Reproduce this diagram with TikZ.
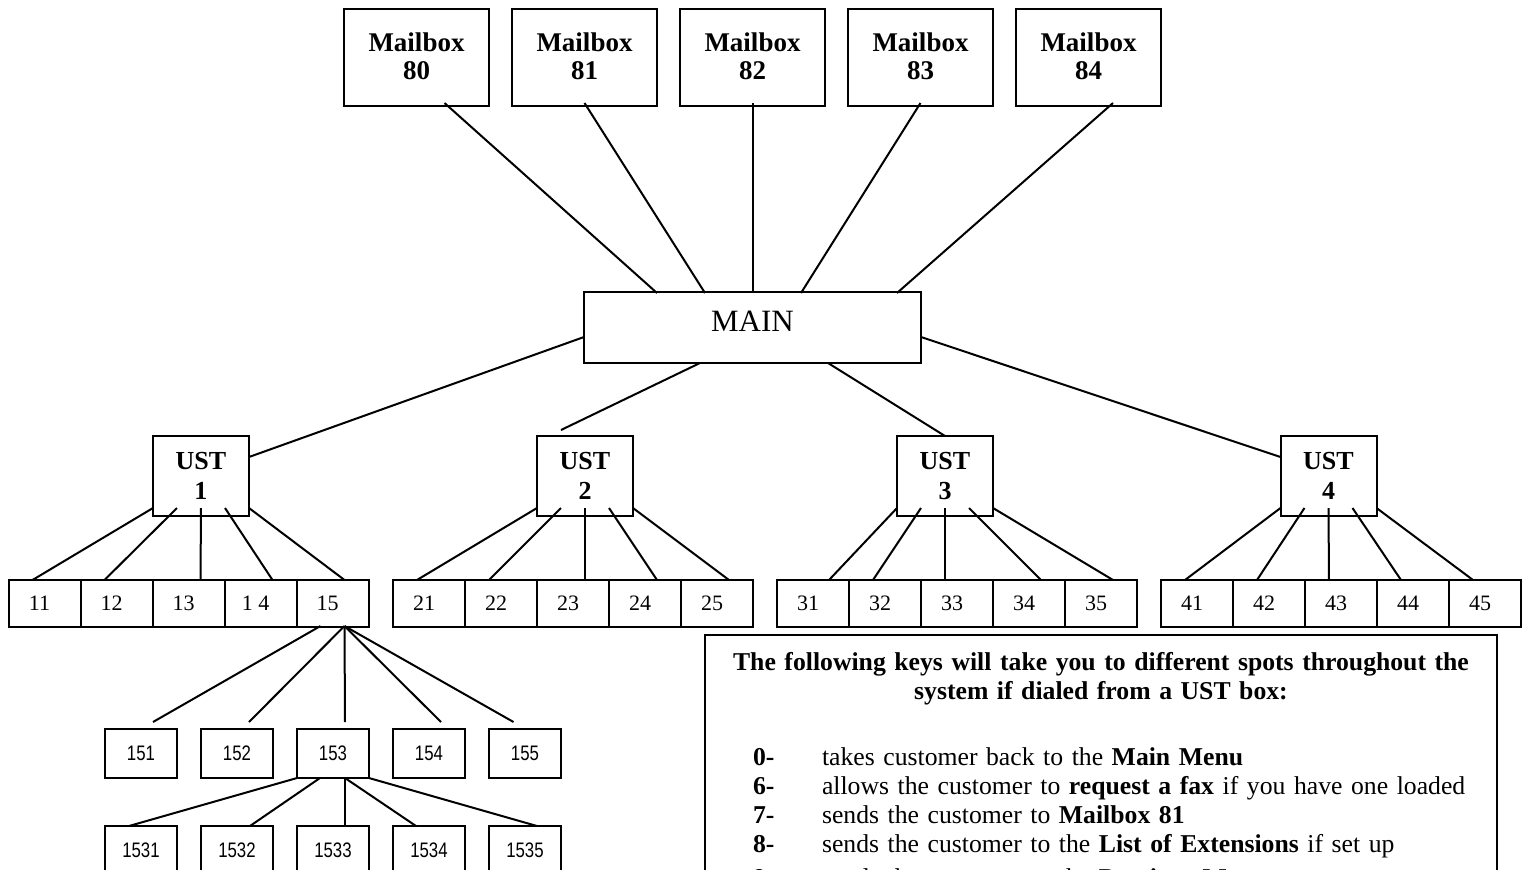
\documentclass[tikz,border=0pt]{standalone}
\usepackage{fontspec}
\setmainfont{Liberation Serif}
\newfontfamily\narrowsans[FakeStretch=0.8]{Liberation Sans}
\usetikzlibrary{positioning,calc}
\newcommand{\keyline}[2]{\hspace*{24pt}\makebox[34.5pt][l]{\bfseries #1}#2\par}

\begin{document}
\begin{tikzpicture}[x=0.5pt,y=-0.5pt,line width=1pt,
every node/.style={outer sep=0pt},
mailbox/.style={draw,align=center,minimum width=72.5pt,minimum height=48.5pt,text depth=1.5pt,font=\fontsize{13.5}{14}\selectfont\bfseries},
mainbox/.style={draw,minimum width=168.5pt,minimum height=35.5pt,text depth=6pt,font=\fontsize{15.5}{17}\selectfont},
ustbox/.style={draw,align=center,minimum width=48pt,minimum height=40pt,font=\fontsize{13}{15}\selectfont\bfseries},
cell/.style={draw,minimum width=36pt,minimum height=23.5pt,inner sep=0pt,font=\fontsize{11}{13}\selectfont,execute at end node={\hspace{5pt}}},
subcell/.style={draw,minimum width=36pt,minimum height=24.5pt,inner sep=0pt,font=\fontsize{10.5}{12}\selectfont\narrowsans},
keyframe/.style={draw,minimum width=396pt,minimum height=135pt},
keytext/.style={text width=396pt,inner sep=0pt,align=left,font=\fontsize{12.85}{14.5}\selectfont}]
\useasboundingbox (0,0) rectangle (1523,869);

% mailboxes
\node[mailbox] (m80) at (416.5,57.5) {Mailbox\\80};
\node[mailbox,right=11.5pt of m80] (m81) {Mailbox\\81};
\node[mailbox,right=11.5pt of m81] (m82) {Mailbox\\82};
\node[mailbox,right=11.5pt of m82] (m83) {Mailbox\\83};
\node[mailbox,right=11.5pt of m83] (m84) {Mailbox\\84};

\node[mainbox] (main) at (752.5,327.5) {MAIN};

\node[ustbox] (u1) at (201,476) {UST\\1};
\node[ustbox] (u2) at (585,476) {UST\\2};
\node[ustbox] (u3) at (945,476) {UST\\3};
\node[ustbox] (u4) at (1328.5,476) {UST\\4};

% extensions
\node[cell] (c11) at (44.5,603.5) {11};
\node[cell,right=0pt of c11] (c12) {12};
\node[cell,right=0pt of c12] (c13) {13};
\node[cell,right=0pt of c13] (c14) {1 4};
\node[cell,right=0pt of c14] (c15) {15};
\node[cell] (c21) at (429,603.5) {21};
\node[cell,right=0pt of c21] (c22) {22};
\node[cell,right=0pt of c22] (c23) {23};
\node[cell,right=0pt of c23] (c24) {24};
\node[cell,right=0pt of c24] (c25) {25};
\node[cell] (c31) at (813,603.5) {31};
\node[cell,right=0pt of c31] (c32) {32};
\node[cell,right=0pt of c32] (c33) {33};
\node[cell,right=0pt of c33] (c34) {34};
\node[cell,right=0pt of c34] (c35) {35};
\node[cell] (c41) at (1197,603.5) {41};
\node[cell,right=0pt of c41] (c42) {42};
\node[cell,right=0pt of c42] (c43) {43};
\node[cell,right=0pt of c43] (c44) {44};
\node[cell,right=0pt of c44] (c45) {45};

\node[subcell] (s151) at (141,753.5) {151};
\node[subcell,right=12pt of s151] (s152) {152};
\node[subcell,right=12pt of s152] (s153) {153};
\node[subcell,right=12pt of s153] (s154) {154};
\node[subcell,right=12pt of s154] (s155) {155};
\node[subcell] (s1531) at (141,850.5) {1531};
\node[subcell,right=12pt of s1531] (s1532) {1532};
\node[subcell,right=12pt of s1532] (s1533) {1533};
\node[subcell,right=12pt of s1533] (s1534) {1534};
\node[subcell,right=12pt of s1534] (s1535) {1535};

% connectors
\draw ($(m80.south)+(28,-3)$) -- ($(main.north)+(-95.5,1)$);
\draw ($(m81.south)+(0,-3)$) -- ($(main.north)+(-47.5,1)$);
\draw ($(m82.south)+(0,-3)$) -- ($(main.north)+(0,1)$);
\draw ($(m83.south)+(0,-3)$) -- ($(main.north)+(48.5,1)$);
\draw ($(m84.south)+(24.5,-3)$) -- ($(main.north)+(144.5,1)$);

\draw ($(main.west)+(0,9.5)$) -- ($(u1.east)+(0,-19)$);
\draw ($(main.south)+(-52.5,0)$) -- ($(u2.north)+(-24,-6)$);
\draw ($(main.south)+(75.5,0)$) -- (u3.north);
\draw ($(main.east)+(0,9.5)$) -- ($(u4.west)+(0,-19)$);

\foreach \i/\dx/\ex in {1/-48/-12,2/-24/-12,3/0/12,4/24/12,5/48/12}
  \draw ($(u1.south)+(\dx,-8)$) -- ($(c1\i.north)+(\ex,0)$);
\foreach \i/\dx/\ex in {1/-48/-12,2/-24/-12,3/0/12,4/24/12,5/48/12}
  \draw ($(u2.south)+(\dx,-8)$) -- ($(c2\i.north)+(\ex,0)$);
\foreach \i/\dx/\ex in {1/-48/16,2/-24/-12,3/0/-12,4/24/12,5/48/12}
  \draw ($(u3.south)+(\dx,-8)$) -- ($(c3\i.north)+(\ex,0)$);
\foreach \i/\dx/\ex in {1/-48/-12,2/-24/-12,3/0/-12,4/24/-12,5/48/-12}
  \draw ($(u4.south)+(\dx,-8)$) -- ($(c4\i.north)+(\ex,0)$);

\foreach \i/\dx/\ex in {1/-12/12,2/12/12,3/12/12,4/12/12,5/12/-11.5}
  \draw ($(c15.south)+(\dx,-1)$) -- ($(s15\i.north)+(\ex,-7)$);
\foreach \i/\dx/\ex in {1/-36/-12,2/-13/13,3/12/12,4/12/-13,5/36/12}
  \draw ($(s153.south)+(\dx,0)$) -- ($(s153\i.north)+(\ex,0)$);

% key list
\node[keyframe] (keys) at (1101,770) {};
\node[keytext,below=8.8pt of keys.north] (keylist) {%
{\centering\bfseries The following keys will take you to different spots throughout the\\
system if dialed from a UST box:\par}
\vspace{18.5pt}
\keyline{0-}{takes customer back to the \textbf{Main Menu}}
\keyline{6-}{allows the customer to \textbf{request a fax} if you have one loaded}
\keyline{7-}{sends the customer to \textbf{Mailbox 81}}
\keyline{8-}{sends the customer to the \textbf{List of Extensions} if set up}
\vspace{2.5pt}
\keyline{9-}{sends the customer to the \textbf{Previous Menu}}};
\end{tikzpicture}
\end{document}
